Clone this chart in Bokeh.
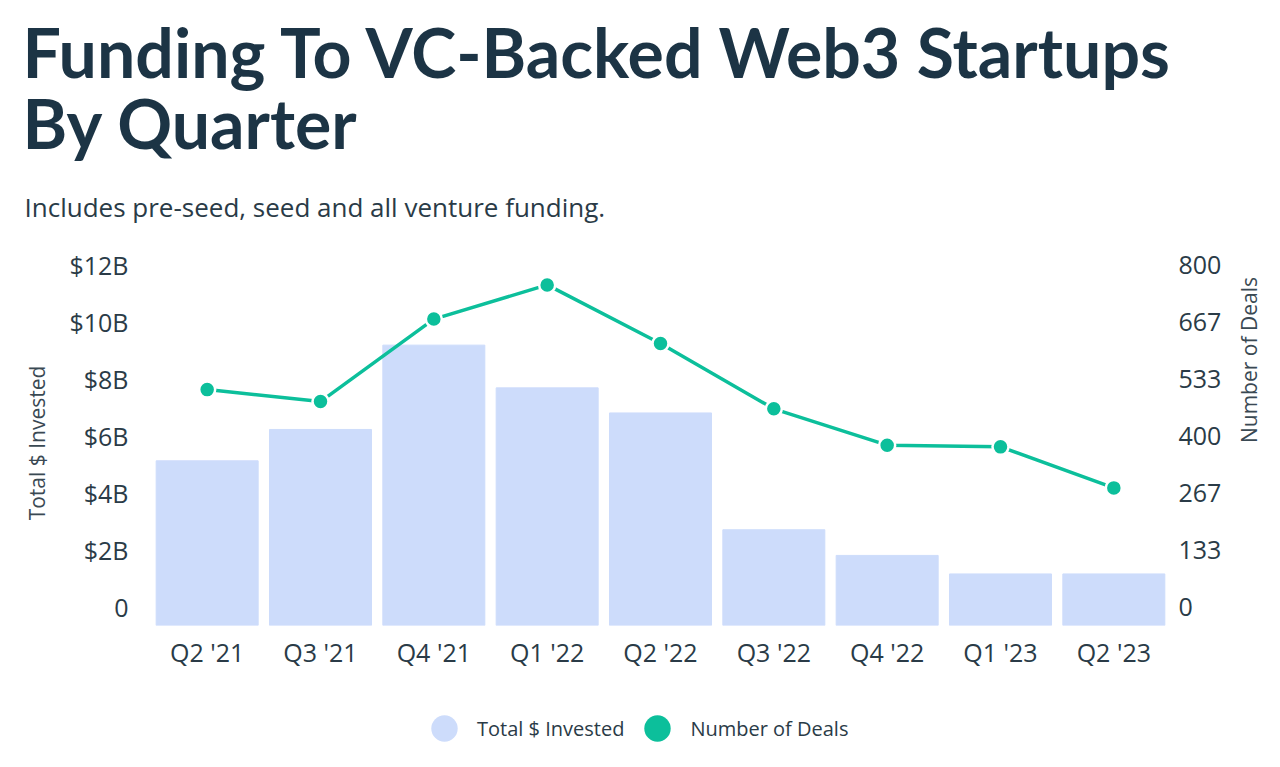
from bokeh.plotting import figure
from bokeh.layouts import column
from bokeh.models import (Range1d, LinearAxis, FixedTicker, NumeralTickFormatter,
                          Legend, LegendItem, Title, Spacer)
from bokeh.embed import file_html
from bokeh.resources import INLINE

quarters = ["Q2 '21", "Q3 '21", "Q4 '21", "Q1 '22", "Q2 '22",
            "Q3 '22", "Q4 '22", "Q1 '23", "Q2 '23"]
invested = [5.78, 6.88, 9.84, 8.34, 7.46, 3.36, 2.46, 1.81, 1.81]   # $B
deals = [552, 524, 717, 797, 660, 507, 422, 418, 322]

left_ticks = [0, 2, 4, 6, 8, 10, 12]
left_labels = ["0", "$2B", "$4B", "$6B", "$8B", "$10B", "$12B"]
right_ticks = [0, 800 / 6, 1600 / 6, 400, 3200 / 6, 4000 / 6, 800]

BAR = "#cddcfb"
TEAL = "#0cbf9b"
INK = "#1c3445"
TXT = "#2a3b47"
TFONT = "Lato"
FONT = "Open Sans"

p = figure(x_range=quarters, y_range=Range1d(0, 12.81),
           width=1280, height=687, output_backend="svg", toolbar_location=None,
           y_axis_location=None, min_border_left=150, min_border_right=109,
           min_border_top=0, min_border_bottom=70)
p.outline_line_color = None
p.xgrid.grid_line_color = None
p.ygrid.grid_line_color = None

p.extra_y_ranges = {
    "deals": Range1d(0, 854.1),
    "lab_l": Range1d(-0.653, 12.157),
    "lab_r": Range1d(-43.5, 810.6),
}

# titles (first added sits closest to the plot)
p.add_layout(Title(text="Includes pre-seed, seed and all venture funding.",
                   text_font=FONT, text_font_size="26px", text_font_style="normal",
                   text_color=TXT, offset=-126, standoff=72), "above")
p.add_layout(Title(text="By Quarter", text_font=TFONT, text_font_size="68px",
                   text_font_style="bold", text_color=INK, offset=-128, standoff=-24), "above")
p.add_layout(Title(text="Funding To VC-Backed Web3 Startups", text_font=TFONT,
                   text_font_size="68px", text_font_style="bold", text_color=INK,
                   offset=-128, standoff=0), "above")

p.vbar(x=quarters, top=invested, width=0.9, color=BAR)
p.line(x=quarters, y=deals, y_range_name="deals", color=TEAL, line_width=3.5)
p.scatter(x=quarters, y=deals, y_range_name="deals", size=16, fill_color=TEAL,
          line_color="white", line_width=2.5)

# axes
la = LinearAxis(y_range_name="lab_l", ticker=FixedTicker(ticks=left_ticks),
                major_label_overrides=dict(zip(left_ticks, left_labels)),
                axis_label="Total $ Invested")
ra = LinearAxis(y_range_name="lab_r", ticker=FixedTicker(ticks=right_ticks),
                formatter=NumeralTickFormatter(format="0"),
                axis_label="Number of Deals")
p.add_layout(la, "left")
p.add_layout(ra, "right")

for ax in [la, ra, p.xaxis[0]]:
    ax.axis_line_color = None
    ax.major_tick_line_color = None
    ax.minor_tick_line_color = None
    ax.major_label_text_font = FONT
    ax.major_label_text_font_size = "25px"
    ax.major_label_text_color = TXT
    ax.axis_label_text_font = FONT
    ax.axis_label_text_font_size = "21px"
    ax.axis_label_text_font_style = "normal"
    ax.axis_label_text_color = "#3a4953"

la.major_label_text_align = "left"
la.major_label_standoff = 16
la.axis_label_standoff = 15
ra.major_label_text_align = "right"
ra.major_label_standoff = 2
ra.axis_label_standoff = 25
ra.axis_label_orientation = 1.5708
p.xaxis[0].major_label_standoff = 3

# legend strip under the chart (its frame lines up with the chart's frame)
lg = figure(width=1280, height=66, x_range=Range1d(0, 1), y_range=Range1d(0, 1),
            output_backend="svg", toolbar_location=None,
            x_axis_location=None, y_axis_location=None, min_border=0)
lg.outline_line_color = None
lg.grid.visible = False
nan = float("nan")
dot1 = lg.scatter(x=[nan], y=[nan], size=26, fill_color=BAR, line_color=None)
dot2 = lg.scatter(x=[nan], y=[nan], size=26, fill_color=TEAL, line_color=None)
legend = Legend(items=[LegendItem(label="Total $ Invested", renderers=[dot1]),
                       LegendItem(label="Number of Deals", renderers=[dot2])],
                orientation="horizontal", location=(261, 0),
                glyph_width=66, glyph_height=66, label_standoff=0, spacing=0,
                padding=0, margin=0, border_line_color=None, background_fill_alpha=0,
                label_text_font=FONT, label_text_font_size="20px", label_text_color=TXT)
lg.add_layout(legend, "center")

page = column(Spacer(height=8), p, lg)
open("out.html", "w").write(file_html(page, INLINE))
